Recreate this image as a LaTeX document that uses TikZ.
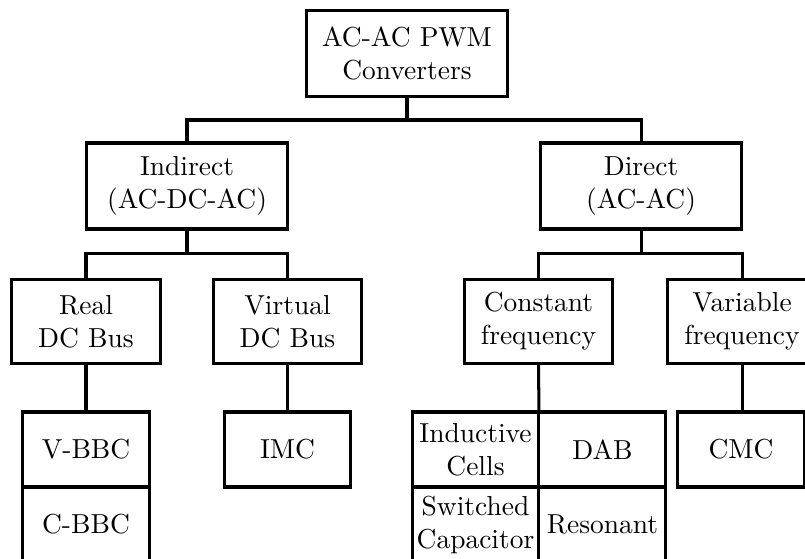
\documentclass[tikz,border=0pt]{standalone}
\usetikzlibrary{positioning}

\begin{document}
\begin{tikzpicture}[
  x=0.364pt, y=-0.364pt,
  cat/.style={draw, line width=1.1pt, align=center, inner sep=1pt, outer sep=0pt},
  big/.style={cat, minimum width=73.5pt, minimum height=31.3pt},
  mid/.style={cat, minimum width=54pt, minimum height=30.9pt},
  leaf/.style={cat, minimum width=46.2pt, minimum height=27.3pt},
  conn/.style={line width=1.1pt}
]
  \useasboundingbox (0,0) rectangle (805,558);
  \clip (0,0) rectangle (805,558);

  \node[big] (top) at (407,53.5) {AC-AC PWM\\Converters};
  \node[big] (ind) at (187,186) {Indirect\\(AC-DC-AC)};
  \node[big] (dir) at (641,186) {Direct\\(AC-AC)};

  \node[mid] (real) at (86,321.5) {Real\\DC Bus};
  \node[mid] (virt) at (287.5,321.5) {Virtual\\DC Bus};
  \node[mid] (const) at (538.5,321.5) {Constant\\frequency};
  \node[mid] (var) at (742,321.5) {Variable\\frequency};

  \node[leaf] (vbbc) at (86,449.5) {V-BBC};
  \node[leaf, below=0pt of vbbc] (cbbc) {C-BBC};
  \node[leaf] (imc) at (287.5,449.5) {IMC};
  \node[leaf] (indc) at (475.5,449.5) {Inductive\\Cells};
  \node[leaf, right=0pt of indc] (dab) {DAB};
  \node[leaf, below=0pt of indc] (swc) {Switched\\Capacitor};
  \node[leaf, below=0pt of dab] (res) {Resonant};
  \node[leaf] (cmc) at (741,449.5) {CMC};

  \draw[conn] (top.south) -- ++(0,23.5) -| (ind.north);
  \draw[conn] (top.south) -- ++(0,23.5) -| (dir.north);
  \draw[conn] (ind.south) -- ++(0,24.5) -| (real.north);
  \draw[conn] (ind.south) -- ++(0,24.5) -| (virt.north);
  \draw[conn] (dir.south) -- ++(0,24.5) -| (const.north);
  \draw[conn] (dir.south) -- ++(0,24.5) -| (var.north);
  \draw[conn] (real.south) -- (vbbc.north);
  \draw[conn] (virt.south) -- (imc.north);
  \draw[conn] (const.south) -- (indc.north east);
  \draw[conn] (var.south) -- (var.south |- cmc.north);
\end{tikzpicture}
\end{document}
